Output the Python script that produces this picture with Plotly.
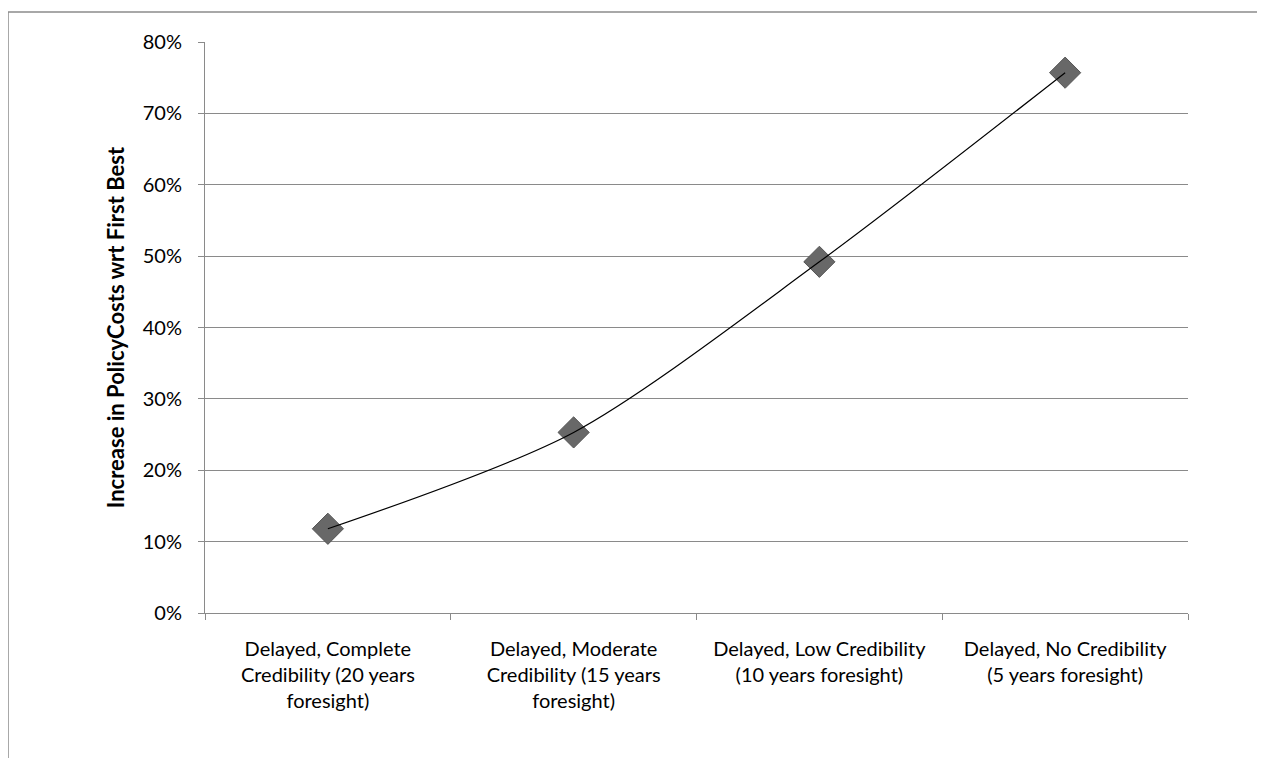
import plotly.graph_objects as go

categories = [
    "Delayed, Complete<br>Credibility (20 years<br>foresight)",
    "Delayed, Moderate<br>Credibility (15 years<br>foresight)",
    "Delayed, Low Credibility<br>(10 years foresight)",
    "Delayed, No Credibility<br>(5 years foresight)",
]
values = [0.118, 0.253, 0.492, 0.757]
y_title = "Increase in PolicyCosts wrt First Best"

FONT = "Lato"
GRID = "#8a8a8a"

fig = go.Figure()
fig.add_trace(go.Scatter(
    x=categories, y=values, mode="markers",
    marker=dict(symbol="diamond", size=24, color="#686868",
                line=dict(color="#555555", width=1)),
    showlegend=False, hoverinfo="skip",
))
fig.add_trace(go.Scatter(
    x=categories, y=values, mode="lines",
    line=dict(color="black", width=1.2, shape="spline", smoothing=0.8),
    showlegend=False,
))

fig.update_layout(
    width=1265, height=758,
    margin=dict(l=197, r=85, t=34, b=153),
    paper_bgcolor="white", plot_bgcolor="white",
    font=dict(family=FONT, size=20, color="black"),
    xaxis=dict(
        type="category", range=[-0.5, 3.5],
        showgrid=False, showline=True, linecolor=GRID, linewidth=1,
        ticks="outside", tickson="boundaries", ticklen=6, tickcolor=GRID,
        tickfont=dict(family=FONT, size=20, lineposition="none"),
        ticklabelstandoff=18,
    ),
    yaxis=dict(
        range=[0, 0.8], dtick=0.1, tickformat=".0%",
        showgrid=True, gridcolor=GRID, gridwidth=1,
        showline=True, linecolor=GRID, linewidth=1,
        ticks="outside", ticklen=6, tickcolor=GRID,
        tickfont=dict(family=FONT, size=20),
        ticklabelstandoff=12,
        zeroline=False,
        title=dict(text="<b>" + y_title + "</b>", font=dict(family=FONT, size=22), standoff=12),
    ),
    shapes=[dict(
        type="rect", xref="paper", yref="paper",
        x0=(8 - 205) / 983, x1=1.2, y0=-0.4, y1=(613 - 12) / 571,
        line=dict(color="#8c8c8c", width=1.5), layer="below",
    )],
)

fig.write_html("out.html")
